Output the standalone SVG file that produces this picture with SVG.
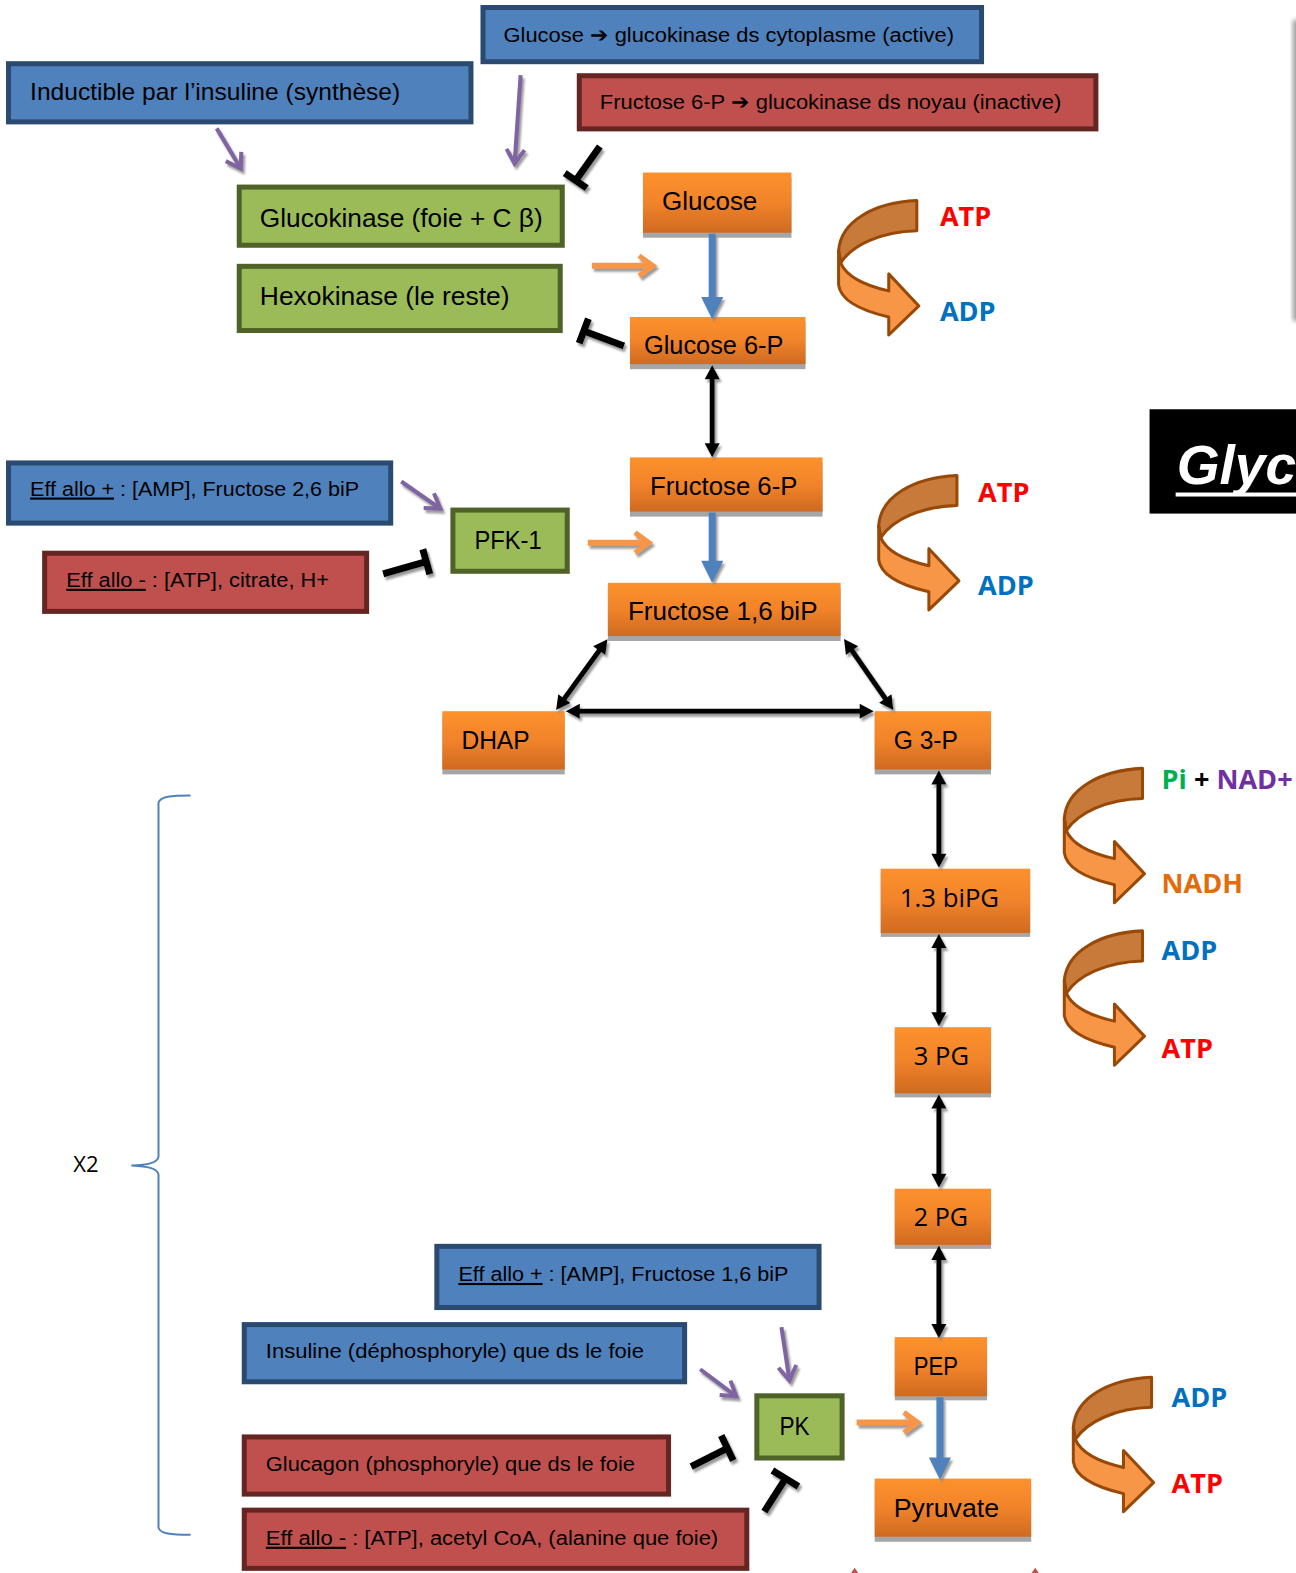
<svg xmlns="http://www.w3.org/2000/svg" width="1296" height="1573" viewBox="0 0 1296 1573">
<defs>
<style>
.t{font-family:"Liberation Sans",Arial,sans-serif;fill:#000;}
.o{font-family:"Open Sans","DejaVu Sans",sans-serif;fill:#000;}
.lab{font-family:"Open Sans","DejaVu Sans",sans-serif;font-weight:bold;font-size:27px;}
.blue{fill:#4f81bd;stroke:#2a4a72;stroke-width:5;}
.red{fill:#c0504d;stroke:#652523;stroke-width:5;}
.green{fill:#9bbb59;stroke:#4f6228;stroke-width:5;}
.orn{fill:url(#og);}
.shd{fill:#a6a6a6;}
.blk{stroke:#000;stroke-width:5;fill:none;marker-start:url(#mb);marker-end:url(#mb);}
.bar{stroke:#4f81bd;stroke-width:7;fill:none;marker-end:url(#mbl);}
.orr{stroke:#f79646;stroke-width:6;fill:none;marker-end:url(#mor);}
.pur{stroke:#8064a2;stroke-width:4;fill:none;marker-end:url(#mpu);}
.inh{stroke:#000;stroke-width:7;fill:none;}
.dark{fill:#c77a3a;stroke:#984807;stroke-width:3;stroke-linejoin:round;}
.light{fill:#f79646;stroke:#984807;stroke-width:3;stroke-linejoin:round;}
</style>
<linearGradient id="og" x1="0" y1="0" x2="0" y2="1">
<stop offset="0" stop-color="#fd912c"/><stop offset="0.5" stop-color="#f1832a"/><stop offset="1" stop-color="#cf6a20"/>
</linearGradient>
<filter id="ds" x="-20%" y="-20%" width="140%" height="140%">
<feDropShadow dx="2" dy="3" stdDeviation="0.8" flood-color="#808080" flood-opacity="0.8"/>
</filter>
<filter id="blur"><feGaussianBlur stdDeviation="2.5"/></filter>
<marker id="mb" markerUnits="userSpaceOnUse" markerWidth="16" markerHeight="16" viewBox="0 -8 14 16" refX="6" refY="0" orient="auto-start-reverse" overflow="visible">
<path d="M0,-7.5 L14,0 L0,7.5 Z" fill="#000"/>
</marker>
<marker id="mbl" markerUnits="userSpaceOnUse" markerWidth="24" markerHeight="24" viewBox="0 -12 24 24" refX="2" refY="0" orient="auto" overflow="visible">
<path d="M0,-11 L22,0 L0,11 Z" fill="#4f81bd"/>
</marker>
<marker id="mor" markerUnits="userSpaceOnUse" markerWidth="20" markerHeight="24" viewBox="-16 -12 20 24" refX="0" refY="0" orient="auto" overflow="visible">
<path d="M-14,-10 L0,0 L-14,10" fill="none" stroke="#f79646" stroke-width="5"/>
</marker>
<marker id="mpu" markerUnits="userSpaceOnUse" markerWidth="20" markerHeight="24" viewBox="-16 -12 20 24" refX="0" refY="0" orient="auto" overflow="visible">
<path d="M-14,-9 L0,0 L-14,9" fill="none" stroke="#8064a2" stroke-width="4"/>
</marker>
<g id="curl">
<path class="dark" d="M78,0 C36,2 2,20 0,50 L2,62 C14,44 42,31 78,30 Z"/>
<path class="light" d="M0,50 L0,84 C2,100 24,110 50,116 L50,134 L80,105 L50,73 L50,90 C28,85 8,76 2,62 Z"/>
</g>
</defs>
<rect x="0" y="0" width="1296" height="1573" fill="#fff"/>
<g transform="scale(1.0031)">

<!-- partial box at right edge -->
<g id="edge-box">
<rect x="1289" y="20" width="20" height="300" fill="#9a9a9a" filter="url(#blur)"/>
<rect x="1293" y="18" width="10" height="296" fill="#fff"/>
</g>

<!-- title -->
<g id="title">
<rect x="1146" y="408" width="150" height="104" fill="#000"/>
<text x="1173" y="483" font-family="Liberation Sans, Arial, sans-serif" font-weight="bold" font-style="italic" font-size="55" fill="#fff">Glyc</text>
<rect x="1172" y="491" width="130" height="4" fill="#fff"/>
</g>

<!-- regulator boxes -->
<g id="reg-glucose-active">
<rect class="blue" x="481.5" y="7.5" width="497" height="54"/>
<text class="t" x="502" y="42" font-size="21" textLength="449" lengthAdjust="spacingAndGlyphs">Glucose ➔ glucokinase ds cytoplasme (active)</text>
</g>
<g id="reg-insuline">
<rect class="blue" x="8.5" y="63.5" width="461" height="58"/>
<text class="t" x="30" y="100" font-size="24" textLength="369" lengthAdjust="spacingAndGlyphs">Inductible par l’insuline (synthèse)</text>
</g>
<g id="reg-f6p-inactive">
<rect class="red" x="577.5" y="75.5" width="515" height="53"/>
<text class="t" x="598" y="109" font-size="21" textLength="460" lengthAdjust="spacingAndGlyphs">Fructose 6-P ➔ glucokinase ds noyau (inactive)</text>
</g>
<g id="glucokinase">
<rect class="green" x="238.5" y="186.5" width="322" height="58"/>
<text class="t" x="259" y="226" font-size="26" textLength="282" lengthAdjust="spacingAndGlyphs">Glucokinase (foie + C β)</text>
</g>
<g id="hexokinase">
<rect class="green" x="238.5" y="265.5" width="320" height="64"/>
<text class="t" x="259" y="304" font-size="26" textLength="249" lengthAdjust="spacingAndGlyphs">Hexokinase (le reste)</text>
</g>
<g id="pfk-plus">
<rect class="blue" x="8.5" y="461.5" width="381" height="60"/>
<text class="t" x="30" y="494" font-size="21" textLength="328" lengthAdjust="spacingAndGlyphs"><tspan text-decoration="underline">Eff allo +</tspan> : [AMP], Fructose 2,6 biP</text>
</g>
<g id="pfk-minus">
<rect class="red" x="44.5" y="551.5" width="321" height="58"/>
<text class="t" x="66" y="585" font-size="21" textLength="262" lengthAdjust="spacingAndGlyphs"><tspan text-decoration="underline">Eff allo -</tspan> : [ATP], citrate, H+</text>
</g>
<g id="pfk1">
<rect class="green" x="451.5" y="508.5" width="114" height="61"/>
<text class="t" x="473" y="547" font-size="25" textLength="67" lengthAdjust="spacingAndGlyphs">PFK-1</text>
</g>
<g id="pk-plus">
<rect class="blue" x="435.5" y="1242.5" width="381" height="61"/>
<text class="t" x="457" y="1277" font-size="21" textLength="329" lengthAdjust="spacingAndGlyphs"><tspan text-decoration="underline">Eff allo +</tspan> : [AMP], Fructose 1,6 biP</text>
</g>
<g id="pk-insuline">
<rect class="blue" x="243.5" y="1320.5" width="439" height="57"/>
<text class="t" x="265" y="1354" font-size="21" textLength="377" lengthAdjust="spacingAndGlyphs">Insuline (déphosphoryle) que ds le foie</text>
</g>
<g id="pk-glucagon">
<rect class="red" x="243.5" y="1432.5" width="423" height="57"/>
<text class="t" x="265" y="1466" font-size="21" textLength="368" lengthAdjust="spacingAndGlyphs">Glucagon (phosphoryle) que ds le foie</text>
</g>
<g id="pk-minus">
<rect class="red" x="243.5" y="1505.5" width="501" height="58"/>
<text class="t" x="265" y="1540" font-size="21" textLength="451" lengthAdjust="spacingAndGlyphs"><tspan text-decoration="underline">Eff allo -</tspan> : [ATP], acetyl CoA, (alanine  que foie)</text>
</g>
<g id="pk">
<rect class="green" x="754.5" y="1391.5" width="85" height="62"/>
<text class="t" x="777" y="1431" font-size="25" textLength="30" lengthAdjust="spacingAndGlyphs">PK</text>
</g>

<!-- metabolites -->
<g id="glucose"><rect class="shd" x="641" y="177" width="148" height="60"/><rect class="orn" x="641" y="172" width="148" height="60"/>
<text class="t" x="660" y="209" font-size="26" textLength="95" lengthAdjust="spacingAndGlyphs">Glucose</text></g>
<g id="glucose6p"><rect class="shd" x="628" y="321" width="175" height="47"/><rect class="orn" x="628" y="316" width="175" height="47"/>
<text class="t" x="642" y="353" font-size="26" textLength="139" lengthAdjust="spacingAndGlyphs">Glucose 6-P</text></g>
<g id="fructose6p"><rect class="shd" x="628" y="461" width="192" height="54"/><rect class="orn" x="628" y="456" width="192" height="54"/>
<text class="t" x="648" y="493" font-size="26" textLength="147" lengthAdjust="spacingAndGlyphs">Fructose 6-P</text></g>
<g id="fructose16bip"><rect class="shd" x="606" y="586" width="232" height="53"/><rect class="orn" x="606" y="581" width="232" height="53"/>
<text class="t" x="626" y="618" font-size="26" textLength="189" lengthAdjust="spacingAndGlyphs">Fructose 1,6 biP</text></g>
<g id="dhap"><rect class="shd" x="441" y="714" width="122" height="58"/><rect class="orn" x="441" y="709" width="122" height="58"/>
<text class="t" x="460" y="747" font-size="26" textLength="68" lengthAdjust="spacingAndGlyphs">DHAP</text></g>
<g id="g3p"><rect class="shd" x="872" y="714" width="116" height="58"/><rect class="orn" x="872" y="709" width="116" height="58"/>
<text class="t" x="891" y="747" font-size="26" textLength="64" lengthAdjust="spacingAndGlyphs">G 3-P</text></g>
<g id="bipg13"><rect class="shd" x="878" y="870" width="149" height="64"/><rect class="orn" x="878" y="866" width="149" height="64"/>
<text class="o" x="897" y="904" font-size="25" textLength="99" lengthAdjust="spacingAndGlyphs">1.3 biPG</text></g>
<g id="pg3"><rect class="shd" x="892" y="1028" width="96" height="66"/><rect class="orn" x="892" y="1024" width="96" height="66"/>
<text class="o" x="911" y="1062" font-size="25" textLength="55" lengthAdjust="spacingAndGlyphs">3 PG</text></g>
<g id="pg2"><rect class="shd" x="892" y="1189" width="96" height="56"/><rect class="orn" x="892" y="1185" width="96" height="56"/>
<text class="o" x="911" y="1222" font-size="25" textLength="54" lengthAdjust="spacingAndGlyphs">2 PG</text></g>
<g id="pep"><rect class="shd" x="892" y="1337" width="92" height="59"/><rect class="orn" x="892" y="1333" width="92" height="59"/>
<text class="t" x="911" y="1371" font-size="26" textLength="44" lengthAdjust="spacingAndGlyphs">PEP</text></g>
<g id="pyruvate"><rect class="shd" x="872" y="1479" width="156" height="58"/><rect class="orn" x="872" y="1474" width="156" height="58"/>
<text class="t" x="891" y="1512" font-size="26" textLength="105" lengthAdjust="spacingAndGlyphs">Pyruvate</text></g>

<!-- cofactor curls -->
<g id="curl1"><use href="#curl" x="836" y="200"/>
<text class="lab" x="937" y="225" fill="#ff0000">ATP</text>
<text class="lab" x="937" y="320" fill="#0070c0">ADP</text></g>
<g id="curl2"><use href="#curl" x="876" y="474"/>
<text class="lab" x="975" y="500" fill="#ff0000">ATP</text>
<text class="lab" x="975" y="593" fill="#0070c0">ADP</text></g>
<g id="curl3"><use href="#curl" x="1061" y="766"/>
<text class="lab" x="1158" y="787"><tspan fill="#00b050">Pi</tspan><tspan fill="#000"> + </tspan><tspan fill="#7030a0">NAD+</tspan></text>
<text class="lab" x="1158" y="890" fill="#e36c09">NADH</text></g>
<g id="curl4"><use href="#curl" x="1061" y="928"/>
<text class="lab" x="1158" y="957" fill="#0070c0">ADP</text>
<text class="lab" x="1158" y="1055" fill="#ff0000">ATP</text></g>
<g id="curl5"><use href="#curl" x="1070" y="1373"/>
<text class="lab" x="1168" y="1403" fill="#0070c0">ADP</text>
<text class="lab" x="1168" y="1488" fill="#ff0000">ATP</text></g>

<!-- brace -->
<g id="brace">
<path d="M190,793 C170,793 160,794 158,800 L158,1153 C157,1160 146,1161 131,1162 C146,1163 157,1164 158,1171 L158,1523 C160,1529 170,1530 190,1530" fill="none" stroke="#4f81bd" stroke-width="2"/>
<text class="o" x="73" y="1168" font-size="22">X2</text>
</g>

<!-- small partial shapes at bottom -->
<g id="bottom-marks">
<polygon points="845,1573 852,1563 859,1573" fill="#c0504d"/>
<polygon points="1025,1573 1032,1563 1039,1573" fill="#c0504d"/>
</g>

<!-- connectors -->
<g id="connectors" filter="url(#ds)">
<path class="pur" d="M216,128 L240,168"/>
<path class="pur" d="M519,75 L513,163"/>
<path class="pur" d="M400,480 L439,507"/>
<path class="pur" d="M698,1365 L734,1392"/>
<path class="pur" d="M779,1323 L787,1376"/>
<path class="orr" d="M590,265 L651,265"/>
<path class="orr" d="M586,541 L647,541"/>
<path class="orr" d="M854,1418 L915,1418"/>
<path class="bar" d="M710,233 L710,298"/>
<path class="bar" d="M710,511 L710,561"/>
<path class="bar" d="M937,1393 L937,1455"/>
<path class="blk" d="M710,372 L710,448"/>
<path class="blk" d="M600.9,643.7 L559.1,701.3"/>
<path class="blk" d="M846,643.7 L886,701.3"/>
<path class="blk" d="M572,709 L863,709"/>
<path class="blk" d="M936,776 L936,857"/>
<path class="blk" d="M936,939 L936,1015"/>
<path class="blk" d="M936,1099 L936,1176"/>
<path class="blk" d="M936,1250 L936,1326"/>
<path class="inh" d="M598,146 L574,180 M563,172.5 L585,187.5"/>
<path class="inh" d="M622,345 L582,330 M586.6,317.8 L577.4,342.2"/>
<path class="inh" d="M382,572 L425,560 M428.5,572.5 L421.5,547.5"/>
<path class="inh" d="M689,1462 L725,1444 M719,1431 L731,1456"/>
<path class="inh" d="M762,1507 L783,1474 M770,1466 L796,1482"/>
</g>
</g>
</svg>
